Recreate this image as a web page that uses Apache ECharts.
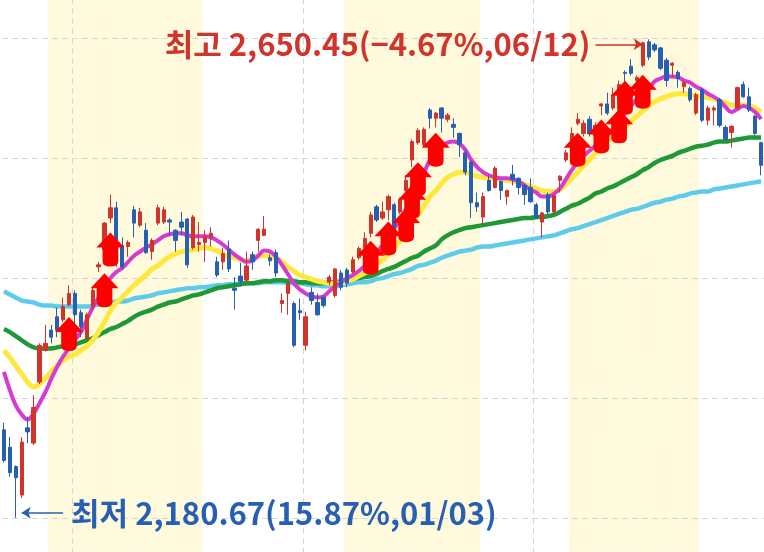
<!DOCTYPE html>
<html><head><meta charset="utf-8">
<script src="https://cdn.jsdelivr.net/npm/echarts@6/dist/echarts.min.js"></script>
<style>html,body{margin:0;padding:0;background:#fff}#c{width:764px;height:552px}</style>
</head><body><div id="c"></div>
<script>
// ---- trading calendar (categories) ----
const START_DATE = '2022-12-29';
const HOLIDAYS = ['2022-12-30','2023-01-23','2023-01-24','2023-03-01','2023-05-01','2023-05-05','2023-05-29','2023-06-06'];

// ---- daily candles ----
const OPEN = [2267,2250,2231,2203,2269,2254,2314,2345,2365,2378,
2375,2390,2401,2382,2357,2388,2427,2444,2475,2485,
2448,2447,2483,2468,2463,2442,2470,2471,2473,2463,
2471,2474,2446,2449,2451,2456,2432,2432,2444,2406,
2418,2414,2439,2453,2458,2436,2441,2391,2401,2391,
2384,2350,2402,2392,2397,2412,2399,2421,2424,2422,
2436,2446,2460,2486,2475,2483,2488,2481,2502,2532,
2549,2547,2581,2573,2583,2572,2567,2558,2539,2530,
2490,2476,2512,2505,2511,2496,2518,2514,2507,2505,
2488,2471,2498,2481,2512,2532,2544,2568,2558,2572,
2556,2585,2587,2583,2591,2618,2624,2610,2625,2648,
2645,2642,2630,2625,2618,2604,2602,2578,2601,2571,
2581,2591,2564,2559,2583,2606,2594,2575,2549];
const CLOSE = [2237,2225,2220,2255,2265,2289,2350,2352,2358,2365,
2388,2401,2380,2368,2380,2404,2429,2470,2485,2453,
2427,2451,2470,2481,2441,2453,2485,2483,2471,2453,
2466,2429,2476,2451,2457,2460,2419,2440,2425,2404,
2413,2428,2432,2464,2464,2433,2421,2394,2411,2350,
2382,2378,2394,2380,2389,2417,2425,2407,2411,2434,
2445,2455,2478,2473,2481,2496,2466,2493,2512,2550,
2561,2562,2573,2578,2573,2576,2564,2547,2520,2490,
2486,2496,2502,2524,2502,2502,2513,2505,2498,2491,
2475,2480,2481,2497,2516,2539,2558,2572,2568,2558,
2566,2587,2578,2596,2606,2617,2617,2613,2647,2633,
2640,2622,2610,2627,2612,2608,2591,2596,2571,2583,
2583,2566,2552,2565,2603,2594,2581,2558,2526.71];
const LOW = [2235,2221,2180.67,2200,2254,2252,2312,2344,2352,2358,
2373,2388,2365,2358,2355,2385,2422,2437,2470,2427,
2424,2437,2456,2466,2440,2434,2468,2469,2458,2442,
2458,2426,2444,2442,2432,2447,2417,2424,2422,2385,
2408,2412,2424,2442,2457,2428,2417,2382,2380,2348,
2375,2345,2390,2379,2387,2409,2397,2404,2407,2421,
2434,2444,2456,2471,2473,2473,2463,2479,2501,2525,
2547,2545,2563,2564,2559,2569,2554,2535,2517,2475,
2481,2468,2501,2504,2493,2488,2507,2498,2488,2490,
2474,2456,2479,2479,2500,2530,2542,2566,2555,2555,
2554,2576,2576,2581,2588,2609,2615,2606,2623,2630,
2638,2620,2604,2613,2603,2598,2589,2576,2569,2566,
2566,2564,2551,2544,2581,2593,2579,2556,2517];
const HIGH = [2274,2260,2232,2260,2280,2301,2352,2370,2370,2387,
2397,2409,2404,2385,2382,2407,2432,2471,2498,2491,
2456,2453,2487,2485,2470,2455,2488,2486,2475,2464,
2481,2475,2478,2471,2463,2466,2437,2446,2453,2417,
2431,2442,2442,2465,2477,2439,2444,2401,2412,2393,
2396,2383,2407,2401,2399,2419,2426,2424,2426,2437,
2447,2461,2481,2488,2491,2498,2490,2495,2517,2552,
2563,2564,2583,2579,2584,2578,2573,2559,2542,2532,
2500,2500,2517,2526,2512,2503,2527,2515,2509,2514,
2490,2481,2500,2498,2517,2542,2564,2578,2571,2575,
2569,2588,2598,2603,2610,2620,2631,2615,2648,2650.45,
2647,2643,2632,2628,2620,2610,2604,2598,2603,2585,
2585,2593,2566,2566,2604,2609,2603,2576,2550];

// ---- moving averages ----
const MA5 = [2324,2306,2291,2282,2277,2283,2293,2304,2317,2329,
2339,2347,2355,2363,2375,2387,2397,2407,2416,2422,
2426,2432,2438,2442,2446,2449,2453,2457,2459,2460,
2460,2458,2457,2457,2457,2456,2453,2449,2444,2439,
2435,2432,2433,2438,2443,2442,2437,2429,2420,2411,
2405,2401,2398,2397,2398,2403,2408,2412,2416,2419,
2423,2428,2434,2441,2448,2456,2465,2474,2484,2495,
2506,2519,2532,2541,2546,2549,2550,2548,2542,2532,
2525,2520,2517,2515,2514,2514,2513,2511,2507,2503,
2500,2496,2496,2499,2504,2513,2522,2530,2536,2541,
2546,2552,2556,2563,2570,2578,2585,2592,2597,2602,
2609,2612,2614,2614,2613,2610,2608,2604,2601,2597,
2594,2590,2584,2579,2582,2585,2583,2579,2572];
const MA20 = [2345,2338,2330,2322,2314,2309,2312,2318,2324,2330,
2335,2339,2341,2345,2349,2355,2363,2373,2384,2392,
2397,2403,2409,2414,2419,2425,2428,2433,2437,2440,
2442,2443,2444,2445,2446,2445,2443,2440,2437,2436,
2434,2433,2435,2438,2438,2437,2435,2432,2427,2423,
2419,2417,2415,2413,2412,2411,2411,2411,2413,2415,
2418,2421,2426,2430,2434,2440,2446,2453,2461,2470,
2478,2487,2496,2502,2509,2515,2518,2520,2520,2518,
2516,2515,2514,2514,2513,2512,2511,2510,2508,2506,
2504,2502,2501,2501,2503,2508,2514,2520,2526,2532,
2539,2544,2550,2555,2559,2564,2570,2575,2580,2585,
2589,2592,2594,2596,2597,2597,2596,2595,2594,2593,
2592,2590,2588,2586,2586,2586,2585,2583,2579];
const MA60 = [2366,2363,2359,2355,2351,2348,2347,2347,2347,2348,
2349,2349,2351,2353,2355,2357,2360,2363,2366,2368,
2371,2374,2378,2381,2383,2385,2388,2390,2392,2393,
2395,2397,2399,2400,2402,2404,2406,2407,2408,2409,
2410,2411,2411,2412,2413,2413,2414,2414,2413,2413,
2412,2412,2411,2411,2411,2412,2412,2413,2414,2415,
2416,2417,2418,2420,2423,2425,2427,2430,2433,2436,
2438,2442,2445,2448,2454,2458,2461,2463,2465,2466,
2467,2468,2469,2470,2471,2472,2473,2474,2475,2475,
2476,2476,2477,2478,2481,2484,2487,2489,2492,2495,
2499,2501,2504,2506,2509,2512,2515,2518,2522,2525,
2529,2532,2534,2536,2539,2541,2543,2545,2546,2547,
2549,2550,2550,2551,2552,2553,2554,2554,2554];
const MA120 = [2403,2400,2397,2394,2393,2392,2390,2389,2389,2388,
2388,2388,2388,2388,2388,2389,2390,2391,2392,2393,
2393,2394,2396,2397,2398,2399,2401,2402,2403,2404,
2405,2406,2406,2407,2407,2408,2409,2409,2410,2410,
2411,2411,2411,2411,2412,2412,2412,2412,2411,2411,
2411,2410,2409,2409,2408,2408,2408,2409,2410,2411,
2412,2412,2413,2415,2416,2418,2420,2421,2423,2425,
2428,2429,2431,2433,2436,2438,2440,2442,2443,2444,
2446,2447,2447,2448,2449,2450,2451,2452,2453,2454,
2455,2456,2457,2458,2460,2462,2464,2465,2467,2469,
2471,2473,2475,2477,2479,2481,2483,2484,2486,2488,
2490,2491,2493,2494,2496,2497,2499,2500,2501,2501,
2503,2504,2505,2506,2507,2508,2509,2510,2511];

// ---- signal arrows (candle index, price level) ----
const ARROW_IDX = [11,17,18,62,65,68,69,70,73,97,101,104,105,108];
const ARROW_VAL = [2361,2404,2444,2436,2455,2468,2491,2513,2542,2542,2555,2565,2593,2599];

// ---- shaded periods (candle index ranges, inclusive) ----
const BANDS = [[8,33],[58,80],[96,117]];

// ---------------------------------------------------------
function buildDates(start, n, hol) {
  const out = []; const d = new Date(start + 'T00:00:00Z');
  while (out.length < n) {
    const iso = d.toISOString().slice(0,10); const wd = d.getUTCDay();
    if (wd !== 0 && wd !== 6 && hol.indexOf(iso) < 0) out.push(iso);
    d.setUTCDate(d.getUTCDate() + 1);
  }
  return out;
}
const N = OPEN.length;
const DATES = buildDates(START_DATE, N, HOLIDAYS);
const candles = OPEN.map((o, i) => [o, CLOSE[i], LOW[i], HIGH[i]]);
const bandData = DATES.map((_, i) => BANDS.some(b => i >= b[0] && i <= b[1]) ? 1 : null);

const hiVal = Math.max(...HIGH), hiIdx = HIGH.indexOf(hiVal);
const loVal = Math.min(...LOW), loIdx = LOW.indexOf(loVal);
const last = CLOSE[N - 1];
const fmt = v => v.toLocaleString('en-US', {minimumFractionDigits: 2, maximumFractionDigits: 2});
const pct = v => { const s = ((last - v) / v * 100).toFixed(2); return s.replace('-', '\u2212'); };
const md = s => s.slice(5).replace('-', '/');
const hiText = '최고 ' + fmt(hiVal) + '(' + pct(hiVal) + '%,' + md(DATES[hiIdx]) + ')';
const loText = '최저 ' + fmt(loVal) + '(' + pct(loVal) + '%,' + md(DATES[loIdx]) + ')';

// layout: where the extreme prices sit on the 552px canvas
const H = 552, TOP_PX = 39.3, BOT_PX = 517.8;
const k = (hiVal - loVal) / (BOT_PX - TOP_PX);
const yMin = loVal - (H - BOT_PX) * k, yMax = hiVal + TOP_PX * k;

const RED = '#D0342A', BLUE = '#2760B2';
const FONT = '"Noto Sans CJK KR", "Noto Sans", sans-serif';
const ARROW_PATH = 'path://M50,0 L100,44 L78,44 L78,84 Q78,100 50,100 Q22,100 22,84 L22,44 L0,44 Z';

const chart = echarts.init(document.getElementById('c'), null, {renderer: 'canvas'});
const hidden = {show: false};
const dash = {show: true, lineStyle: {color: '#d6d6d6', width: 1, type: [6, 4]}};
chart.setOption({
  animation: false,
  backgroundColor: '#ffffff',
  grid: [
    {left: 1, right: 0, top: 0, bottom: 0, outerBoundsMode: 'none'},
    {left: -158, top: -82, width: 922, height: 720, outerBoundsMode: 'none'}
  ],
  xAxis: [
    {type: 'category', gridIndex: 0, data: DATES, boundaryGap: true, axisLine: hidden, axisTick: hidden, axisLabel: hidden, splitLine: hidden},
    {type: 'value', gridIndex: 1, min: 0, max: 4, interval: 1, z: 1, axisLine: hidden, axisTick: hidden, axisLabel: hidden, splitLine: dash}
  ],
  yAxis: [
    {type: 'value', gridIndex: 0, min: yMin, max: yMax, scale: true, axisLine: hidden, axisTick: hidden, axisLabel: hidden, splitLine: hidden},
    {type: 'value', gridIndex: 0, min: 0, max: 1, axisLine: hidden, axisTick: hidden, axisLabel: hidden, splitLine: hidden},
    {type: 'value', gridIndex: 1, min: 0, max: 6, interval: 1, z: 1, axisLine: hidden, axisTick: hidden, axisLabel: hidden, splitLine: dash}
  ],
  series: [
    {type: 'bar', xAxisIndex: 0, yAxisIndex: 1, data: bandData, barWidth: '100%', barCategoryGap: '0%', z: 0, silent: true,
     itemStyle: {color: '#FFFADB', borderColor: '#FFFADB', borderWidth: 0.6}},
    {type: 'line', name: 'MA120', data: MA120, smooth: 0.4, showSymbol: false, z: 2, lineStyle: {color: '#5FCBEB', width: 4.5}},
    {type: 'line', name: 'MA60', data: MA60, smooth: 0.4, showSymbol: false, z: 2, lineStyle: {color: '#1F9838', width: 4.5}},
    {type: 'line', name: 'MA20', data: MA20, smooth: 0.4, showSymbol: false, z: 2, lineStyle: {color: '#FFE83C', width: 5}},
    {type: 'line', name: 'MA5', data: MA5, smooth: 0.4, showSymbol: false, z: 2, lineStyle: {color: '#D63AD3', width: 4}},
    {type: 'candlestick', data: candles, z: 3, barWidth: 3.8,
     itemStyle: {color: RED, color0: BLUE, borderColor: RED, borderColor0: BLUE, borderWidth: 1},
     markLine: {silent: true, symbol: ['none', 'arrow'], symbolSize: 9, animation: false,
       data: [
         [{coord: [hiIdx - 9, hiVal - 5 * k], lineStyle: {color: RED, width: 1.5, type: 'solid'},
           label: {show: true, position: 'start', formatter: hiText, color: RED, fontSize: 31, fontWeight: 'bold', fontFamily: FONT, distance: 5}},
          {coord: [hiIdx - 1, hiVal - 5 * k]}],
         [{coord: [loIdx + 8, loVal + 5 * k], lineStyle: {color: BLUE, width: 1.5, type: 'solid'},
           label: {show: true, position: 'start', formatter: loText, color: BLUE, fontSize: 31, fontWeight: 'bold', fontFamily: FONT, distance: 8}},
          {coord: [loIdx + 1, loVal + 5 * k]}]
       ]}},
    {type: 'scatter', data: ARROW_IDX.map((x, i) => [x, ARROW_VAL[i]]), symbol: ARROW_PATH, symbolSize: [28, 34], z: 4, silent: true,
     itemStyle: {color: '#FF0000', opacity: 1}}
  ]
});
</script></body></html>
